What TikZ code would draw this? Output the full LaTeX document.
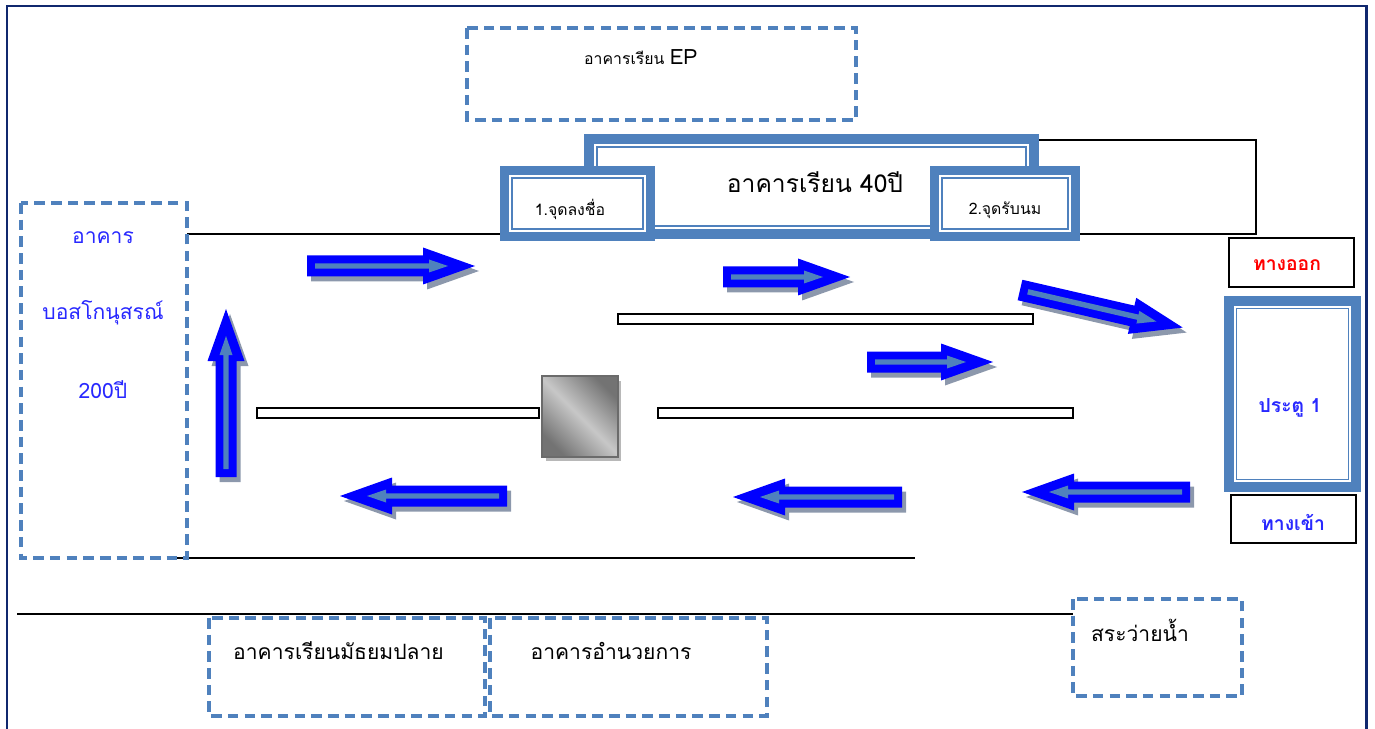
\documentclass[tikz,border=0pt]{standalone}
\usepackage{fontspec}
\newfontfamily\thaifont[Script=Thai]{Loma}
\usetikzlibrary{calc}

\definecolor{bldblue}{RGB}{79,129,189}
\definecolor{flowblue}{RGB}{0,0,255}
\definecolor{flowshadow}{RGB}{140,152,172}
\definecolor{framenavy}{RGB}{16,40,110}
\definecolor{labelblue}{RGB}{40,40,255}

\tikzset{
  dashbox/.style={draw=bldblue, line width=1.8pt, dash pattern=on 6pt off 3.5pt},
  bldgouter/.style={draw=bldblue, line width=5.3pt, fill=white},
  bldginner/.style={draw=bldblue, line width=0.9pt},
  thinbox/.style={draw=black, line width=0.9pt, fill=white},
  road/.style={draw=black, line width=1pt},
  txt/.style={font=\thaifont\fontsize{12}{14}\selectfont},
  smalltxt/.style={font=\thaifont\fontsize{9}{11}\selectfont},
  bigtxt/.style={font=\thaifont\fontsize{14}{16}\selectfont},
  boldtxt/.style={font=\thaifont\bfseries\fontsize{11}{13}\selectfont},
}

% block arrow: #1 tail, #2 angle, #3 length
\newcommand{\flowarrow}[3]{%
  \begin{scope}[shift={#1}]
    \fill[flowshadow, shift={(4,5)}, rotate=#2]
      (0,-\bw) -- ({#3-\hl},-\bw) -- ({#3-\hl},-\hw) -- (#3,0) -- ({#3-\hl},\hw) -- ({#3-\hl},\bw) -- (0,\bw) -- cycle;
    \fill[flowblue, rotate=#2]
      (0,-\bw) -- ({#3-\hl},-\bw) -- ({#3-\hl},-\hw) -- (#3,0) -- ({#3-\hl},\hw) -- ({#3-\hl},\bw) -- (0,\bw) -- cycle;
    \fill[bldblue, rotate=#2]
      (8,-2.7) -- ({#3-46},-2.7) -- ({#3-46},-6.5) -- ({#3-27},0) -- ({#3-46},6.5) -- ({#3-46},2.7) -- (8,2.7) -- cycle;
  \end{scope}}

\begin{document}
\begin{tikzpicture}[x=0.02cm, y=-0.02cm]

  % parameters
  \def\bw{10.5} % half width of arrow body
  \def\hw{18.5} % half width of arrow head
  \def\hl{52}   % head length

  \useasboundingbox (0,0) rectangle (1375,729);

  % ---- outer frame ----
  \draw[framenavy, line width=1.7pt] (7,729) -- (7,6) -- (1366,6) -- (1366,729);

  % ---- roads ----
  \draw[road] (187,234) -- (1256,234) -- (1256,140) -- (600,140);
  \draw[road] (170,558) -- (915,558);
  \draw[road] (17,614) -- (1073,614);

  % ---- top buildings ----
  \draw[dashbox] (467,28) rectangle (856,120);
  \node[smalltxt, anchor=west] (ep) at (578,57) {อาคารเรียน {\fontsize{12}{14}\selectfont EP}};

  \draw[bldgouter] (589,139) rectangle (1034,234);
  \draw[bldginner] (597,147) rectangle (1026,226);
  \node[bigtxt] (b40) at (815,182) {อาคารเรียน 40ปี};

  \draw[bldgouter] (504.5,170.5) rectangle (650.5,236.5);
  \draw[bldginner] (512,178) rectangle (643,229);
  \node[smalltxt] (sign) at (570,209) {1.จุดลงชื่อ};

  \draw[bldgouter] (934.5,170.5) rectangle (1075.5,236.5);
  \draw[bldginner] (942,178) rectangle (1068,229);
  \node[smalltxt] (milk) at (1005,210) {2.จุดรับนม};

  % ---- left building ----
  \draw[dashbox] (21,203) rectangle (187,558);
  \node[txt, text=labelblue] (bosco1) at (103,238) {อาคาร};
  \node[txt, text=labelblue] (bosco2) at (103,313) {บอสโกนุสรณ์};
  \node[txt, text=labelblue] (bosco3) at (103,390) {200ปี};

  % ---- gate ----
  \draw[thinbox] (1229,238) rectangle (1354,287);
  \node[boldtxt, text=red] (exit) at (1287,265) {ทางออก};
  \draw[bldgouter] (1229,301) rectangle (1356,487);
  \draw[bldginner] (1236.5,308.5) rectangle (1348.5,479.5);
  \node[boldtxt, text=labelblue] (gate) at (1290,408) {ประตู 1};
  \draw[thinbox] (1231,495) rectangle (1356,543);
  \node[boldtxt, text=labelblue] (entry) at (1293,522) {ทางเข้า};

  % ---- barriers and pillar ----
  \draw[thinbox] (618,314) rectangle (1033,324);
  \draw[thinbox] (257,408) rectangle (539,418);
  \draw[thinbox] (658,408) rectangle (1073,418);
  \fill[black!28] (546,381) rectangle (621,461);
  \shade[shading=axis, top color=black!55, bottom color=black!55, middle color=black!22, shading angle=-45]
    (542,376) rectangle (618,457);
  \draw[black!58, line width=1.1pt] (542,376) rectangle (618,457);

  % ---- flow arrows ----
  \flowarrow{(307,266)}{0}{168}
  \flowarrow{(723,277)}{0}{127}
  \flowarrow{(1020,290)}{-13}{167}
  \flowarrow{(867,362)}{0}{126}
  \flowarrow{(226,477)}{90}{168}
  \flowarrow{(507,496)}{180}{167}
  \flowarrow{(902,497)}{180}{169}
  \flowarrow{(1190,492)}{180}{168}

  % ---- bottom buildings ----
  \draw[dashbox] (209,618) rectangle (485,716);
  \node[txt, anchor=west] (m6) at (227,651) {อาคารเรียนมัธยมปลาย};
  \draw[dashbox] (490,618) rectangle (767,716);
  \node[txt] (admin) at (611,651) {อาคารอำนวยการ};
  \draw[dashbox] (1073,599) rectangle (1242,696);
  \node[txt] (pool) at (1140,630) {สระว่ายน้ำ};

\end{tikzpicture}
\end{document}
